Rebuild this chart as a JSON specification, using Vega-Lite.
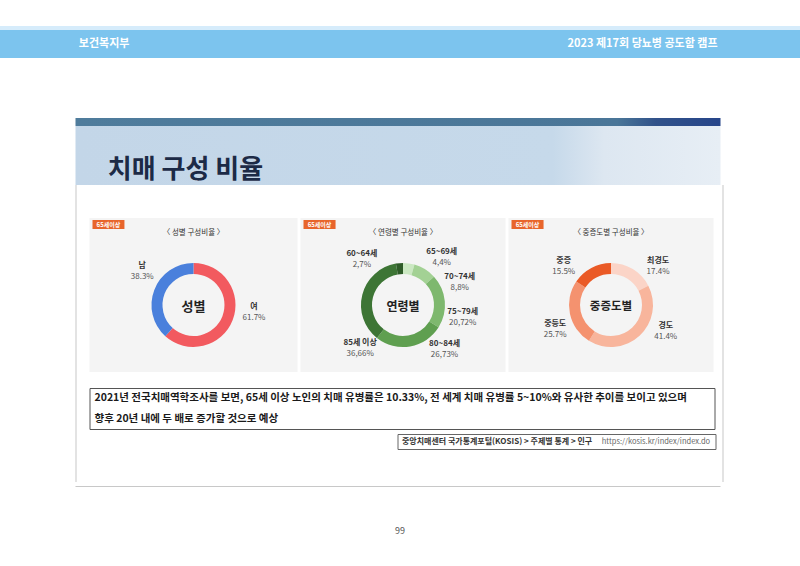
{
  "$schema": "https://vega.github.io/schema/vega-lite/v6.json",
  "padding": {"top": 26, "left": 0, "right": 0, "bottom": 0},
  "autosize": {"type": "pad"},
  "background": "white",
  "spacing": 0,
  "center": true,
  "resolve": {"scale": {"color": "independent", "x": "independent", "y": "independent", "theta": "independent"}},
  "config": {
    "view": {"stroke": null},
    "font": "Noto Sans CJK KR",
    "text": {"font": "Noto Sans CJK KR"}
  },
  "datasets": {
    "sex": [
      {"cat": "여", "pct": 61.7, "label": "61.7%", "i": 1},
      {"cat": "남", "pct": 38.3, "label": "38.3%", "i": 2}
    ],
    "age": [
      {"cat": "65~69세", "pct": 4.4, "label": "4,4%", "i": 1},
      {"cat": "70~74세", "pct": 8.8, "label": "8,8%", "i": 2},
      {"cat": "75~79세", "pct": 20.72, "label": "20,72%", "i": 3},
      {"cat": "80~84세", "pct": 26.73, "label": "26,73%", "i": 4},
      {"cat": "85세 이상", "pct": 36.66, "label": "36,66%", "i": 5},
      {"cat": "60~64세", "pct": 2.7, "label": "2,7%", "i": 6}
    ],
    "sev": [
      {"cat": "최경도", "pct": 17.4, "label": "17.4%", "i": 1},
      {"cat": "경도", "pct": 41.4, "label": "41.4%", "i": 2},
      {"cat": "중등도", "pct": 25.7, "label": "25.7%", "i": 3},
      {"cat": "중증", "pct": 15.5, "label": "15.5%", "i": 4}
    ]
  },
  "vconcat": [
    {
      "width": 800, "height": 4,
      "view": {"fill": "#d6ecfb"},
      "data": {"values": []},
      "mark": "point"
    },
    {
      "width": 800, "height": 28,
      "view": {"fill": "#7cc4ee"},
      "data": {"values": [{"l": "보건복지부", "r": "2023 제17회 당뇨병 공도함 캠프"}]},
      "layer": [
        {
          "mark": {"type": "text", "align": "left", "baseline": "middle", "color": "white", "fontSize": 11, "fontWeight": "bold"},
          "encoding": {
            "x": {"datum": 0.0985, "type": "quantitative", "scale": {"domain": [0, 1], "nice": false}, "axis": null},
            "text": {"field": "l"}
          }
        },
        {
          "mark": {"type": "text", "align": "right", "baseline": "middle", "color": "white", "fontSize": 11, "fontWeight": "bold"},
          "encoding": {
            "x": {"datum": 0.897, "type": "quantitative"},
            "text": {"field": "r"}
          }
        }
      ]
    },
    {"width": 10, "height": 60, "data": {"values": []}, "mark": "point"},
    {
      "hconcat": [
        {
          "vconcat": [
            {
              "width": 645, "height": 8,
              "view": {"fill": {"gradient": "linear", "x1": 0, "x2": 1, "y1": 0, "y2": 0, "stops": [
                {"offset": 0, "color": "#4f7c9c"},
                {"offset": 0.84, "color": "#4a7698"},
                {"offset": 0.9, "color": "#31528a"},
                {"offset": 1, "color": "#27458a"}
              ]}},
              "data": {"values": []},
              "mark": "point"
            },
            {
              "width": 645, "height": 59,
              "view": {"fill": {"gradient": "linear", "x1": 0, "x2": 1, "y1": 0, "y2": 0, "stops": [
                {"offset": 0, "color": "#c3d6e8"},
                {"offset": 0.74, "color": "#c6d9ea"},
                {"offset": 0.82, "color": "#dde7f1"},
                {"offset": 1, "color": "#e7eef5"}
              ]}},
              "data": {"values": [{"t": "치매 구성 비율"}]},
              "mark": {"type": "text", "align": "left", "baseline": "middle", "color": "#1c2a46", "fontSize": 26, "fontWeight": "bold"},
              "encoding": {
                "x": {"datum": 0.05, "type": "quantitative", "scale": {"domain": [0, 1], "nice": false}, "axis": null},
                "y": {"datum": 0.26, "type": "quantitative", "scale": {"domain": [0, 1], "nice": false}, "axis": null},
                "text": {"field": "t"}
              }
            },
            {
              "hconcat": [
                {"width": 1, "height": 297, "view": {"fill": "#c8c8c8"}, "data": {"values": []}, "mark": "point"},
                {"width": 12, "height": 297, "data": {"values": []}, "mark": "point"},
                {
                  "vconcat": [
                    {"width": 10, "height": 33, "data": {"values": []}, "mark": "point"},
                    {
                      "hconcat": [
                        {
                          "vconcat": [
                            {
                              "width": 208, "height": 20,
                              "view": {"fill": "#f4f4f4"},
                              "data": {"values": [{"tag": "65세이상", "sub": "〈 성별 구성비율 〉"}]},
                              "layer": [
                                {
                                  "mark": {"type": "rect", "color": "#e8652b"},
                                  "encoding": {
                                    "x": {"datum": 0.0144, "type": "quantitative", "scale": {"domain": [0, 1], "nice": false}, "axis": null},
                                    "x2": {"datum": 0.168},
                                    "y": {"datum": 0.9, "type": "quantitative", "scale": {"domain": [0, 1], "nice": false}, "axis": null},
                                    "y2": {"datum": 0.45}
                                  }
                                },
                                {
                                  "mark": {"type": "text", "color": "white", "fontSize": 6, "fontWeight": "bold", "baseline": "middle"},
                                  "encoding": {
                                    "x": {"datum": 0.091, "type": "quantitative"},
                                    "y": {"datum": 0.675, "type": "quantitative"},
                                    "text": {"field": "tag"}
                                  }
                                },
                                {
                                  "mark": {"type": "text", "color": "#333333", "fontSize": 7.5, "baseline": "middle"},
                                  "encoding": {
                                    "x": {"datum": 0.5, "type": "quantitative"},
                                    "y": {"datum": 0.265, "type": "quantitative"},
                                    "text": {"field": "sub"}
                                  }
                                }
                              ]
                            },
                            {
                              "width": 208, "height": 134,
                              "view": {"fill": "#f4f4f4"},
                              "data": {"name": "sex"},
                              "layer": [
                                {
                                  "mark": {"type": "arc", "outerRadius": 42, "innerRadius": 31},
                                  "encoding": {
                                    "theta": {"field": "pct", "type": "quantitative", "stack": true, "scale": {"domain": [0, 100], "nice": false}},
                                    "color": {"field": "cat", "type": "nominal", "scale": {"domain": ["여", "남"], "range": ["#f25a5f", "#4a80dc"]}, "legend": null},
                                    "order": {"field": "i", "type": "quantitative"}
                                  }
                                },
                                {
                                  "data": {"values": [{"c": "성별"}]},
                                  "mark": {"type": "text", "fontSize": 13, "fontWeight": "bold", "color": "#222222", "baseline": "middle", "dy": 2},
                                  "encoding": {"text": {"field": "c"}}
                                },
                                {
                                  "mark": {"type": "text", "radius": 61, "dy": -5.5, "fontSize": 8, "fontWeight": "bold", "color": "#333333", "baseline": "middle"},
                                  "encoding": {
                                    "theta": {"field": "pct", "type": "quantitative", "stack": true, "scale": {"domain": [0, 30.85, 80.85, 100], "range": [0, 1.7017, 5.2866, 6.2832], "nice": false}},
                                    "order": {"field": "i", "type": "quantitative"},
                                    "detail": {"field": "cat"},
                                    "text": {"field": "cat"}
                                  }
                                },
                                {
                                  "mark": {"type": "text", "radius": 61, "dy": 5.5, "fontSize": 8, "color": "#555555", "baseline": "middle"},
                                  "encoding": {
                                    "theta": {"field": "pct", "type": "quantitative", "stack": true, "scale": {"domain": [0, 30.85, 80.85, 100], "range": [0, 1.7017, 5.2866, 6.2832], "nice": false}},
                                    "order": {"field": "i", "type": "quantitative"},
                                    "detail": {"field": "cat"},
                                    "text": {"field": "label"}
                                  }
                                }
                              ],
                              "resolve": {"scale": {"theta": "independent"}}
                            }
                          ],
                          "spacing": 0,
                          "resolve": {"scale": {"color": "independent", "x": "independent", "y": "independent", "theta": "independent"}}
                        },
                        {
                          "vconcat": [
                            {
                              "width": 205, "height": 20,
                              "view": {"fill": "#f4f4f4"},
                              "data": {"values": [{"tag": "65세이상", "sub": "〈 연령별 구성비율 〉"}]},
                              "layer": [
                                {
                                  "mark": {"type": "rect", "color": "#e8652b"},
                                  "encoding": {
                                    "x": {"datum": 0.0146, "type": "quantitative", "scale": {"domain": [0, 1], "nice": false}, "axis": null},
                                    "x2": {"datum": 0.171},
                                    "y": {"datum": 0.9, "type": "quantitative", "scale": {"domain": [0, 1], "nice": false}, "axis": null},
                                    "y2": {"datum": 0.45}
                                  }
                                },
                                {
                                  "mark": {"type": "text", "color": "white", "fontSize": 6, "fontWeight": "bold", "baseline": "middle"},
                                  "encoding": {
                                    "x": {"datum": 0.093, "type": "quantitative"},
                                    "y": {"datum": 0.675, "type": "quantitative"},
                                    "text": {"field": "tag"}
                                  }
                                },
                                {
                                  "mark": {"type": "text", "color": "#333333", "fontSize": 7.5, "baseline": "middle"},
                                  "encoding": {
                                    "x": {"datum": 0.5, "type": "quantitative"},
                                    "y": {"datum": 0.265, "type": "quantitative"},
                                    "text": {"field": "sub"}
                                  }
                                }
                              ]
                            },
                            {
                              "width": 205, "height": 134,
                              "view": {"fill": "#f4f4f4"},
                              "data": {"name": "age"},
                              "layer": [
                                {
                                  "mark": {"type": "arc", "outerRadius": 42, "innerRadius": 31},
                                  "encoding": {
                                    "theta": {"field": "pct", "type": "quantitative", "stack": true, "scale": {"domain": [0, 100.01], "nice": false}},
                                    "color": {"field": "cat", "type": "nominal", "scale": {"domain": ["65~69세", "70~74세", "75~79세", "80~84세", "85세 이상", "60~64세"], "range": ["#cbe8c2", "#a3d194", "#7eb86e", "#5f9f50", "#3d7535", "#2e5b28"]}, "legend": null},
                                    "order": {"field": "i", "type": "quantitative"}
                                  }
                                },
                                {
                                  "data": {"values": [{"c": "연령별"}]},
                                  "mark": {"type": "text", "fontSize": 12, "fontWeight": "bold", "color": "#222222", "baseline": "middle", "dy": 2},
                                  "encoding": {"text": {"field": "c"}}
                                },
                                {
                                  "mark": {"type": "text", "radius": 61, "dy": -5.5, "fontSize": 8, "fontWeight": "bold", "color": "#333333", "baseline": "middle"},
                                  "encoding": {
                                    "theta": {"field": "pct", "type": "quantitative", "stack": true, "scale": {"domain": [0, 2.2, 8.8, 23.56, 47.285, 78.98, 98.66, 100.01], "range": [0, 0.6877, 1.1938, 1.7768, 2.3928, 3.92, 5.5432, 6.2832], "nice": false}},
                                    "order": {"field": "i", "type": "quantitative"},
                                    "detail": {"field": "cat"},
                                    "text": {"field": "cat"}
                                  }
                                },
                                {
                                  "mark": {"type": "text", "radius": 61, "dy": 5.5, "fontSize": 8, "color": "#555555", "baseline": "middle"},
                                  "encoding": {
                                    "theta": {"field": "pct", "type": "quantitative", "stack": true, "scale": {"domain": [0, 2.2, 8.8, 23.56, 47.285, 78.98, 98.66, 100.01], "range": [0, 0.6877, 1.1938, 1.7768, 2.3928, 3.92, 5.5432, 6.2832], "nice": false}},
                                    "order": {"field": "i", "type": "quantitative"},
                                    "detail": {"field": "cat"},
                                    "text": {"field": "label"}
                                  }
                                }
                              ],
                              "resolve": {"scale": {"theta": "independent"}}
                            }
                          ],
                          "spacing": 0,
                          "resolve": {"scale": {"color": "independent", "x": "independent", "y": "independent", "theta": "independent"}}
                        },
                        {
                          "vconcat": [
                            {
                              "width": 205, "height": 20,
                              "view": {"fill": "#f4f4f4"},
                              "data": {"values": [{"tag": "65세이상", "sub": "〈 중증도별 구성비율 〉"}]},
                              "layer": [
                                {
                                  "mark": {"type": "rect", "color": "#e8652b"},
                                  "encoding": {
                                    "x": {"datum": 0.0146, "type": "quantitative", "scale": {"domain": [0, 1], "nice": false}, "axis": null},
                                    "x2": {"datum": 0.171},
                                    "y": {"datum": 0.9, "type": "quantitative", "scale": {"domain": [0, 1], "nice": false}, "axis": null},
                                    "y2": {"datum": 0.45}
                                  }
                                },
                                {
                                  "mark": {"type": "text", "color": "white", "fontSize": 6, "fontWeight": "bold", "baseline": "middle"},
                                  "encoding": {
                                    "x": {"datum": 0.093, "type": "quantitative"},
                                    "y": {"datum": 0.675, "type": "quantitative"},
                                    "text": {"field": "tag"}
                                  }
                                },
                                {
                                  "mark": {"type": "text", "color": "#333333", "fontSize": 7.5, "baseline": "middle"},
                                  "encoding": {
                                    "x": {"datum": 0.5, "type": "quantitative"},
                                    "y": {"datum": 0.265, "type": "quantitative"},
                                    "text": {"field": "sub"}
                                  }
                                }
                              ]
                            },
                            {
                              "width": 205, "height": 134,
                              "view": {"fill": "#f4f4f4"},
                              "data": {"name": "sev"},
                              "layer": [
                                {
                                  "mark": {"type": "arc", "outerRadius": 42, "innerRadius": 31},
                                  "encoding": {
                                    "theta": {"field": "pct", "type": "quantitative", "stack": true, "scale": {"domain": [0, 100], "nice": false}},
                                    "color": {"field": "cat", "type": "nominal", "scale": {"domain": ["최경도", "경도", "중등도", "중증"], "range": ["#fbd4c7", "#f8b59c", "#f4926f", "#ea5a26"]}, "legend": null},
                                    "order": {"field": "i", "type": "quantitative"}
                                  }
                                },
                                {
                                  "data": {"values": [{"c": "중증도별"}]},
                                  "mark": {"type": "text", "fontSize": 11.5, "fontWeight": "bold", "color": "#222222", "baseline": "middle", "dy": 2},
                                  "encoding": {"text": {"field": "c"}}
                                },
                                {
                                  "mark": {"type": "text", "radius": 61, "dy": -5.5, "fontSize": 8, "fontWeight": "bold", "color": "#333333", "baseline": "middle"},
                                  "encoding": {
                                    "theta": {"field": "pct", "type": "quantitative", "stack": true, "scale": {"domain": [0, 8.7, 38.1, 71.65, 92.25, 100], "range": [0, 0.8814, 2.0263, 4.297, 5.3966, 6.2832], "nice": false}},
                                    "order": {"field": "i", "type": "quantitative"},
                                    "detail": {"field": "cat"},
                                    "text": {"field": "cat"}
                                  }
                                },
                                {
                                  "mark": {"type": "text", "radius": 61, "dy": 5.5, "fontSize": 8, "color": "#555555", "baseline": "middle"},
                                  "encoding": {
                                    "theta": {"field": "pct", "type": "quantitative", "stack": true, "scale": {"domain": [0, 8.7, 38.1, 71.65, 92.25, 100], "range": [0, 0.8814, 2.0263, 4.297, 5.3966, 6.2832], "nice": false}},
                                    "order": {"field": "i", "type": "quantitative"},
                                    "detail": {"field": "cat"},
                                    "text": {"field": "label"}
                                  }
                                }
                              ],
                              "resolve": {"scale": {"theta": "independent"}}
                            }
                          ],
                          "spacing": 0,
                          "resolve": {"scale": {"color": "independent", "x": "independent", "y": "independent", "theta": "independent"}}
                        }
                      ],
                      "spacing": 3,
                      "resolve": {"scale": {"color": "independent", "x": "independent", "y": "independent", "theta": "independent"}}
                    },
                    {"width": 10, "height": 15, "data": {"values": []}, "mark": "point"},
                    {
                      "width": 625, "height": 41,
                      "view": {"fill": "white", "stroke": "#555555", "strokeWidth": 1},
                      "data": {"values": [
                        {"ln": 1, "t": "2021년 전국치매역학조사를 보면, 65세 이상 노인의 치매 유병률은 10.33%, 전 세계 치매 유병률 5~10%와 유사한 추이를 보이고 있으며"},
                        {"ln": 2, "t": "향후 20년 내에 두 배로 증가할 것으로 예상"}
                      ]},
                      "mark": {"type": "text", "align": "left", "baseline": "middle", "fontSize": 10.5, "fontWeight": "bold", "color": "#1a1a1a"},
                      "encoding": {
                        "x": {"datum": 0.008, "type": "quantitative", "scale": {"domain": [0, 1], "nice": false}, "axis": null},
                        "y": {"field": "ln", "type": "ordinal", "scale": {"type": "point", "padding": 0.5}, "axis": null},
                        "text": {"field": "t"}
                      }
                    },
                    {"width": 10, "height": 3, "data": {"values": []}, "mark": "point"},
                    {
                      "hconcat": [
                        {"width": 307, "height": 15, "data": {"values": []}, "mark": "point"},
                        {
                          "width": 318, "height": 15,
                          "view": {"fill": "white", "stroke": "#666666", "strokeWidth": 1},
                          "data": {"values": [{"a": "중앙치매센터 국가통계포털(KOSIS) > 주제별 통계 > 인구", "b": "https://kosis.kr/index/index.do"}]},
                          "layer": [
                            {
                              "mark": {"type": "text", "align": "left", "baseline": "middle", "fontSize": 8, "fontWeight": "bold", "color": "#333333"},
                              "encoding": {
                                "x": {"datum": 0.014, "type": "quantitative", "scale": {"domain": [0, 1], "nice": false}, "axis": null},
                                "text": {"field": "a"}
                              }
                            },
                            {
                              "mark": {"type": "text", "align": "right", "baseline": "middle", "fontSize": 7.5, "color": "#666666"},
                              "encoding": {
                                "x": {"datum": 0.983, "type": "quantitative"},
                                "text": {"field": "b"}
                              }
                            }
                          ]
                        }
                      ],
                      "spacing": 0,
                      "resolve": {"scale": {"x": "independent", "y": "independent"}}
                    },
                    {"width": 10, "height": 36, "data": {"values": []}, "mark": "point"}
                  ],
                  "spacing": 0,
                  "resolve": {"scale": {"color": "independent", "x": "independent", "y": "independent", "theta": "independent"}}
                },
                {"width": 6, "height": 297, "data": {"values": []}, "mark": "point"},
                {"width": 1, "height": 297, "view": {"fill": "#c8c8c8"}, "data": {"values": []}, "mark": "point"}
              ],
              "spacing": 0,
              "resolve": {"scale": {"color": "independent", "x": "independent", "y": "independent", "theta": "independent"}}
            },
            {"width": 645, "height": 1, "view": {"fill": "#c8c8c8"}, "data": {"values": []}, "mark": "point"}
          ],
          "spacing": 0,
          "resolve": {"scale": {"color": "independent", "x": "independent", "y": "independent", "theta": "independent"}}
        },
        {"width": 1, "height": 1, "data": {"values": []}, "mark": "point"}
      ],
      "spacing": 0,
      "resolve": {"scale": {"color": "independent", "x": "independent", "y": "independent", "theta": "independent"}}
    },
    {"width": 10, "height": 34, "data": {"values": []}, "mark": "point"},
    {
      "width": 20, "height": 20,
      "data": {"values": [{"p": "99"}]},
      "mark": {"type": "text", "baseline": "middle", "fontSize": 9, "color": "#555555"},
      "encoding": {"text": {"field": "p"}}
    }
  ]
}
